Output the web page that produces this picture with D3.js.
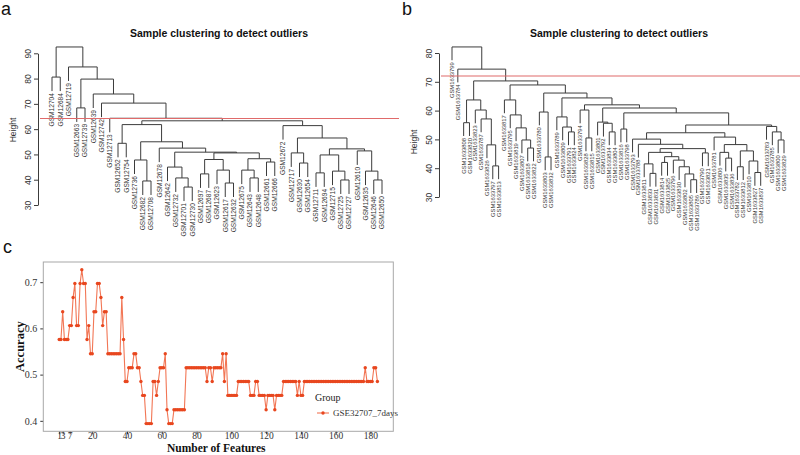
<!DOCTYPE html>
<html><head><meta charset="utf-8">
<script src="https://cdn.jsdelivr.net/npm/d3@7/dist/d3.min.js"></script>
<style>body{margin:0;background:#fff}svg{display:block}</style>
</head><body>
<svg id="chart" width="800" height="455"></svg>
<script>
// ---------------- DATA ----------------
// Panel a: hierarchical clustering, nodes are [mergeHeight, left, right], leaves are sample names
const heightTicksA = [30, 40, 50, 60, 70, 80, 90];
const cutHeightA = 64.2;
const treeA =
 [92.5, [80.6, "GSM12704", "GSM12684"],
  [84.6, "GSM12719",
   [79.8, [68.4, "GSM12663", "GSM12739"],
    [73.9, "GSM12639",
     [70.3, "GSM12742",
      [64.3, "GSM12713",
       [63.3,
        [61.8, [54.4, "GSM12652", "GSM12754"],
         [55.0,
          [47.8, "GSM12736", [39.5, "GSM12682", "GSM12708"]],
          [52.5, "GSM12678",
           [50.9,
            [45.0, "GSM12642", [40.7, "GSM12732", [37.1, "GSM12701", "GSM12730"]]],
            [50.6,
             [48.0, [42.3, "GSM12697", "GSM12687"], [43.8, "GSM12623", [38.7, "GSM12617", "GSM12632"]]],
             [48.3, [43.8, "GSM12675", [40.7, "GSM12643", "GSM12648"]], [47.0, "GSM12661", "GSM12666"]]]]]]],
        [61.4, "GSM12672",
         [56.5,
          [50.6, "GSM12717", [46.6, "GSM12630", "GSM12654"]],
          [52.2,
           [49.8, [42.7, "GSM12711", "GSM12694"], [43.4, "GSM12715", [39.9, "GSM12725", "GSM12727"]]],
           [51.4, "GSM12610", [43.4, "GSM12635", [39.9, "GSM12646", "GSM12650"]]]]]]]]]]]]];

// Panel b
const heightTicksB = [30, 40, 50, 60, 70, 80];
const cutHeightB = 72;
const treeB =
 [82.1, "GSM1633799",
  [74.4, "GSM1633784",
   [70.3,
    [63.7, [55.8, "GSM1633808", "GSM1633820"], [60.2, "GSM1633823", [57.1, "GSM1633787", [48.1, "GSM1633826", [40.8, "GSM1633797", "GSM1633813"]]]]],
    [68.9,
     [63.7, "GSM1633817", [58.5, "GSM1633795", [54.0, "GSM1633819", [49.8, "GSM1633807", [47.0, "GSM1633818", "GSM1633822"]]]]],
     [66.1,
      [59.5, "GSM1633780", [43.9, "GSM1633803", "GSM1633832"]],
      [64.4,
       [57.8, "GSM1633789", [54.3, "GSM1633809", [52.6, "GSM1633791", "GSM1633824"]]],
       [62.0,
        [60.2, "GSM1633794", [50.5, "GSM1633828", "GSM1633815"]],
        [60.9,
         [56.0, "GSM1633801", [55.6, "GSM1633792", [52.6, "GSM1633834", "GSM1633804"]]],
         [59.2,
          [53.6, "GSM1633816", "GSM1633798"],
          [55.0,
           [52.3,
            [50.1, "GSM1633793",
             [48.3, "GSM1633788",
              [46.8,
               [45.5,
                [41.5, "GSM1633811", [38.2, "GSM1633833", "GSM1633831"]],
                [44.0, [42.0, "GSM1633814", "GSM1633825"],
                 [42.8, "GSM1633796", [40.5, "GSM1633830", [38.0, "GSM1633802", [36.0, "GSM1633805", "GSM1633786"]]]]]],
               [45.3, "GSM1633790", "GSM1633821"]]]],
            [50.8, "GSM1633781",
             [48.2,
              [45.5, "GSM1633806", [43.5, "GSM1633835", "GSM1633836"]],
              [46.0, [40.5, "GSM1633782", "GSM1633812"], [42.5, "GSM1633810", [38.5, "GSM1633827", "GSM1633837"]]]]]],
           [54.5, "GSM1633783", [52.6, "GSM1633785", [49.8, "GSM1633800", "GSM1633829"]]]]]]]]]]]]];

// Panel c: accuracy by number of features (1..184)
const featureTicks = [1, 3, 7, 20, 40, 60, 80, 100, 120, 140, 160, 180];
const accuracyTicks = [0.4, 0.5, 0.6, 0.7];
const seriesName = "GSE32707_7days";
const accuracy = [
 0.576,0.576,0.636,0.576,0.576,0.576,0.606,0.606,0.667,0.697,
 0.606,0.606,0.697,0.727,0.697,0.697,0.576,0.606,0.545,0.545,
 0.636,0.636,0.697,0.697,0.667,0.606,0.636,0.636,0.545,0.545,
 0.545,0.545,0.545,0.545,0.545,0.545,0.667,0.576,0.485,0.485,
 0.515,0.515,0.515,0.545,0.545,0.515,0.515,0.485,0.455,0.455,
 0.394,0.394,0.394,0.394,0.485,0.485,0.455,0.485,0.515,0.515,
 0.515,0.545,0.424,0.394,0.394,0.394,0.424,0.424,0.424,0.424,
 0.424,0.424,0.424,0.515,0.515,0.515,0.515,0.515,0.515,0.515,
 0.515,0.515,0.515,0.515,0.515,0.485,0.515,0.515,0.485,0.515,
 0.515,0.515,0.515,0.515,0.545,0.485,0.545,0.455,0.455,0.455,
 0.455,0.455,0.455,0.485,0.485,0.485,0.485,0.485,0.485,0.485,
 0.455,0.455,0.455,0.485,0.485,0.455,0.455,0.455,0.455,0.424,
 0.455,0.455,0.455,0.455,0.424,0.455,0.455,0.455,0.455,0.485,
 0.485,0.485,0.485,0.485,0.485,0.485,0.485,0.455,0.485,0.455,
 0.455,0.485,0.485,0.485,0.485,0.485,0.485,0.485,0.485,0.485,
 0.485,0.485,0.485,0.485,0.485,0.485,0.485,0.485,0.485,0.485,
 0.485,0.485,0.485,0.485,0.485,0.485,0.485,0.485,0.485,0.485,
 0.485,0.485,0.485,0.485,0.485,0.485,0.515,0.485,0.485,0.485,
 0.485,0.515,0.515,0.485
];

// ---------------- DRAWING ----------------
const svg = d3.select("#chart");
svg.append("rect").attr("width", 800).attr("height", 455).attr("fill", "#fff");
const SANS = "'Liberation Sans', Arial, Helvetica, sans-serif";
const SERIF = "'Liberation Serif', 'Times New Roman', serif";
const LINE = "#3c3c3c";

function panelLetter(x, y, t) {
  svg.append("text").attr("x", x).attr("y", y).text(t)
    .attr("font-family", SANS).attr("font-size", 18).attr("fill", "#111");
}

function dendrogram(opt) {
  const g = svg.append("g");
  const y = d3.scaleLinear().domain([opt.ticks[0], opt.ticks[opt.ticks.length - 1]]).range(opt.yRange);
  const root = d3.hierarchy(opt.tree, d => Array.isArray(d) ? d.slice(1) : null);
  const leaves = root.leaves();
  const xs = d3.scalePoint().domain(leaves.map(d => d.data)).range(opt.xRange);
  let hMin = Infinity, hMax = -Infinity;
  root.eachAfter(n => {
    if (n.children) {
      n.h = n.data[0];
      n.x = (n.children[0].x + n.children[n.children.length - 1].x) / 2;
      hMin = Math.min(hMin, n.h); hMax = Math.max(hMax, n.h);
    } else {
      n.x = xs(n.data);
    }
  });
  const hang = 0.1 * (hMax - hMin);
  root.leaves().forEach(n => { n.h = n.parent.h - hang; });

  let d = "";
  root.each(n => {
    if (!n.children) return;
    const c0 = n.children[0], c1 = n.children[n.children.length - 1];
    d += `M${c0.x},${y(c0.h)}V${y(n.h)}H${c1.x}V${y(c1.h)}`;
  });
  g.append("path").attr("d", d).attr("fill", "none").attr("stroke", LINE).attr("stroke-width", 1);

  g.selectAll("text.leaf").data(leaves).join("text")
    .attr("class", "leaf")
    .attr("transform", n => `translate(${n.x},${y(n.h) + 2}) rotate(-90)`)
    .attr("text-anchor", "end").attr("dy", "0.35em")
    .attr("font-family", SANS).attr("font-size", opt.leafFont).attr("fill", "#333")
    .text(n => n.data);

  // cut line
  g.append("line").attr("x1", opt.cutX[0]).attr("x2", opt.cutX[1])
    .attr("y1", y(opt.cut)).attr("y2", y(opt.cut))
    .attr("stroke", "#e06a6a").attr("stroke-width", 1.1);

  // axis
  const ax = g.append("g").attr("transform", `translate(${opt.axisX},0)`)
    .call(d3.axisLeft(y).tickValues(opt.ticks).tickSize(4).tickSizeOuter(0));
  ax.select(".domain").attr("stroke", LINE);
  ax.selectAll(".tick line").attr("stroke", LINE);
  ax.selectAll(".tick text")
    .attr("transform", "rotate(-90)").attr("x", 0).attr("y", -7).attr("dy", 0)
    .attr("text-anchor", "middle").attr("font-family", SANS).attr("font-size", 8.5).attr("fill", "#333");

  g.append("text").attr("transform", `translate(${opt.axisX - 22},${opt.ylabY}) rotate(-90)`)
    .attr("text-anchor", "middle").attr("font-family", SANS).attr("font-size", 8.5).attr("fill", "#333")
    .text("Height");

  g.append("text").attr("x", opt.titleX).attr("y", 37).attr("text-anchor", "middle")
    .attr("font-family", SANS).attr("font-weight", "bold").attr("font-size", 10.5).attr("fill", "#111")
    .text("Sample clustering to detect outliers");
}

panelLetter(1, 15, "a");
dendrogram({tree: treeA, ticks: heightTicksA, yRange: [205, 53.3], xRange: [52, 382],
  cut: cutHeightA, cutX: [40, 399], axisX: 38, ylabY: 130, titleX: 219, leafFont: 6.6});

panelLetter(402, 15, "b");
dendrogram({tree: treeB, ticks: heightTicksB, yRange: [197, 53], xRange: [452, 784],
  cut: cutHeightB, cutX: [441, 800], axisX: 439, ylabY: 142, titleX: 619, leafFont: 5.8});

// ---------------- Panel c ----------------
panelLetter(3, 253, "c");
const box = {x0: 43.3, x1: 393.3, y0: 262, y1: 431.3};
const data = accuracy.map((v, i) => ({n: i + 1, v}));
const xC = d3.scaleLinear().domain([1 - 183 * 0.05, 184 + 183 * 0.05]).range([box.x0, box.x1]);
const yExt = d3.extent(accuracy), pad = (yExt[1] - yExt[0]) * 0.05;
const yC = d3.scaleLinear().domain([yExt[0] - pad, yExt[1] + pad]).range([box.y1, box.y0]);
const gc = svg.append("g");

const xAxis = gc.append("g").attr("transform", `translate(0,${box.y1})`)
  .call(d3.axisBottom(xC).tickValues(featureTicks).tickFormat(d3.format("d")).tickSize(3).tickSizeOuter(0));
const yAxis = gc.append("g").attr("transform", `translate(${box.x0},0)`)
  .call(d3.axisLeft(yC).tickValues(accuracyTicks).tickFormat(d3.format(".1f")).tickSize(3).tickSizeOuter(0));
[xAxis, yAxis].forEach(a => {
  a.select(".domain").remove();
  a.selectAll(".tick line").attr("stroke", "#333");
  a.selectAll(".tick text").attr("font-family", SERIF).attr("font-size", 10).attr("fill", "#333");
});
xAxis.selectAll(".tick text").attr("font-size", 9.5).attr("y", 1).attr("dy", "0.71em");

gc.append("rect").attr("x", box.x0).attr("y", box.y0)
  .attr("width", box.x1 - box.x0).attr("height", box.y1 - box.y0)
  .attr("fill", "none").attr("stroke", "#a8a8a8").attr("stroke-width", 1);

const lineGen = d3.line().x(d => xC(d.n)).y(d => yC(d.v));
gc.append("path").datum(data).attr("d", lineGen)
  .attr("fill", "none").attr("stroke", "#f27655").attr("stroke-width", 1.1);
gc.selectAll("circle.pt").data(data).join("circle").attr("class", "pt")
  .attr("cx", d => xC(d.n)).attr("cy", d => yC(d.v)).attr("r", 1.7)
  .attr("fill", "#e8471f");

gc.append("text").attr("x", (box.x0 + box.x1) / 2 - 2).attr("y", 452).attr("text-anchor", "middle")
  .attr("font-family", SERIF).attr("font-weight", "bold").attr("font-size", 11.5).attr("fill", "#111")
  .text("Number of Features");
gc.append("text").attr("transform", `translate(24,${(box.y0 + box.y1) / 2}) rotate(-90)`)
  .attr("text-anchor", "middle").attr("font-family", SERIF).attr("font-weight", "bold")
  .attr("font-size", 12.5).attr("fill", "#111").text("Accuracy");

// legend
const lg = gc.append("g").attr("transform", "translate(315,0)");
lg.append("text").attr("x", 0).attr("y", 401).attr("font-family", SERIF).attr("font-size", 10)
  .attr("fill", "#222").text("Group");
lg.append("line").attr("x1", 2).attr("x2", 14).attr("y1", 413).attr("y2", 413)
  .attr("stroke", "#f27655").attr("stroke-width", 1.1);
lg.append("circle").attr("cx", 8).attr("cy", 413).attr("r", 1.7).attr("fill", "#e8471f");
lg.append("text").attr("x", 18).attr("y", 416).attr("font-family", SERIF).attr("font-size", 9)
  .attr("fill", "#333").text(seriesName);
</script>
</body></html>
